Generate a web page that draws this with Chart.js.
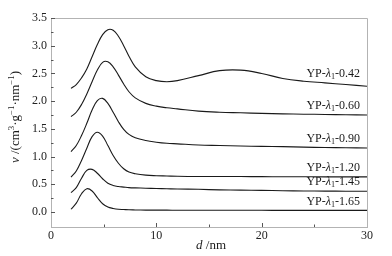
<!DOCTYPE html>
<html lang="en">
<head>
<meta charset="UTF-8">
<title>Pore size distribution</title>
<script src="https://cdn.jsdelivr.net/npm/chart.js"></script>
<style>
    html, body { margin: 0; padding: 0; background: #fff; }
    #wrap { width: 392px; height: 256px; }
</style>
</head>
<body>
<div id="wrap"><canvas id="psd" width="392" height="256"></canvas></div>
<script>
    // pore diameter d (nm), shared by every curve
    const dValues = [1.9, 2.4, 2.9, 3.4, 3.9, 4.4, 4.9, 5.4, 5.9, 6.4, 6.9, 7.4, 8, 9, 10, 11, 12, 14, 16, 18, 20, 22, 24, 26, 28, 30];

    const seriesNames = ['0.42', '0.60', '0.90', '1.20', '1.45', '1.65'];

    const v042 = [2.23, 2.30, 2.42, 2.58, 2.80, 3.02, 3.20, 3.29, 3.28, 3.17, 3.00, 2.81, 2.62, 2.44, 2.37, 2.35, 2.37, 2.46, 2.55, 2.56, 2.50, 2.41, 2.36, 2.33, 2.30, 2.27];
    const v060 = [1.72, 1.80, 1.94, 2.13, 2.35, 2.56, 2.70, 2.71, 2.62, 2.47, 2.31, 2.17, 2.06, 1.96, 1.91, 1.88, 1.86, 1.82, 1.80, 1.79, 1.78, 1.77, 1.765, 1.76, 1.755, 1.75];
    const v090 = [1.09, 1.20, 1.38, 1.60, 1.84, 2.01, 2.05, 1.96, 1.80, 1.63, 1.49, 1.40, 1.34, 1.29, 1.26, 1.24, 1.23, 1.21, 1.20, 1.19, 1.185, 1.18, 1.17, 1.165, 1.16, 1.155];
    const v120 = [0.63, 0.74, 0.93, 1.15, 1.36, 1.44, 1.37, 1.20, 1.02, 0.88, 0.78, 0.72, 0.69, 0.665, 0.655, 0.65, 0.645, 0.64, 0.64, 0.64, 0.638, 0.637, 0.636, 0.635, 0.635, 0.635];
    const v145 = [0.35, 0.44, 0.61, 0.75, 0.77, 0.70, 0.60, 0.52, 0.48, 0.46, 0.45, 0.44, 0.435, 0.43, 0.425, 0.42, 0.415, 0.41, 0.40, 0.395, 0.39, 0.385, 0.38, 0.378, 0.376, 0.375];
    const v165 = [0.05, 0.16, 0.33, 0.42, 0.38, 0.26, 0.15, 0.09, 0.065, 0.05, 0.045, 0.04, 0.038, 0.035, 0.035, 0.034, 0.033, 0.033, 0.032, 0.032, 0.031, 0.03, 0.03, 0.03, 0.03, 0.03];

    const xTicks = [0, 10, 20, 30];
    const yTicks = [0, 0.5, 1.0, 1.5, 2.0, 2.5, 3.0, 3.5];

    const allSeries = [v042, v060, v090, v120, v145, v165];
    const serif = "'Liberation Serif', 'Times New Roman', serif";
    const frameColor = '#b3b3b3';

    const datasets = allSeries.map((vals, i) => ({
        label: 'YP-λ1-' + seriesNames[i],
        data: vals.map((v, k) => ({ x: dValues[k], y: v })),
        borderColor: '#1a1a1a',
        borderWidth: 1.1,
        pointRadius: 0,
        showLine: true,
        tension: 0.4,
        fill: false
    }));

    // draws mixed runs of text: [str, italic, script] where script is 'sup'/'sub'/null
    function drawRuns(ctx, runs, x, y, size) {
        runs.forEach(r => {
            const small = r[2] ? size * 0.68 : size;
            ctx.font = (r[1] ? 'italic ' : '') + small + 'px ' + serif;
            let dy = 0;
            if (r[2] === 'sup') dy = -size * 0.33;
            if (r[2] === 'sub') dy = size * 0.25;
            ctx.fillText(r[0], x, y + dy);
            x += ctx.measureText(r[0]).width;
        });
    }
    function runsWidth(ctx, runs, size) {
        let w = 0;
        runs.forEach(r => {
            const small = r[2] ? size * 0.68 : size;
            ctx.font = (r[1] ? 'italic ' : '') + small + 'px ' + serif;
            w += ctx.measureText(r[0]).width;
        });
        return w;
    }

    const decorations = {
        id: 'decorations',
        afterDraw(chart) {
            const ctx = chart.ctx;
            const area = chart.chartArea;
            const xs = chart.scales.x, ys = chart.scales.y;
            ctx.save();

            // top and right frame lines
            ctx.strokeStyle = frameColor;
            ctx.lineWidth = 1;
            ctx.beginPath();
            ctx.moveTo(area.left, area.top + 0.5);
            ctx.lineTo(area.right + 0.5, area.top + 0.5);
            ctx.lineTo(area.right + 0.5, area.bottom);
            ctx.stroke();

            // inward tick marks
            ctx.strokeStyle = '#555';
            ctx.beginPath();
            for (let v = 0; v <= 3.5001; v += 0.25) {
                const py = Math.round(ys.getPixelForValue(v)) + 0.5;
                const len = Math.abs(v * 2 - Math.round(v * 2)) < 1e-6 ? 4 : 2.5;
                ctx.moveTo(area.left, py);
                ctx.lineTo(area.left + len, py);
            }
            for (let d = 5; d < 30; d += 5) {
                const px = Math.round(xs.getPixelForValue(d)) + 0.5;
                const len = d % 10 === 0 ? 4 : 2.5;
                ctx.moveTo(px, area.bottom);
                ctx.lineTo(px, area.bottom - len);
            }
            ctx.stroke();

            // curve labels
            ctx.fillStyle = '#1a1a1a';
            ctx.textBaseline = 'middle';
            ctx.textAlign = 'left';
            const k26 = dValues.indexOf(26);
            allSeries.forEach((vals, i) => {
                const runs = [['YP-', false, null], ['λ', true, null], ['1', false, 'sub'], ['-' + seriesNames[i], false, null]];
                const w = runsWidth(ctx, runs, 12);
                const right = area.right - 7;
                const y = ys.getPixelForValue(vals[k26]) - 9;
                drawRuns(ctx, runs, right - w, y, 12);
            });

            // x axis title
            const xRuns = [['d', true, null], [' /nm', false, null]];
            const xw = runsWidth(ctx, xRuns, 13);
            drawRuns(ctx, xRuns, (area.left + area.right) / 2 - xw / 2 + 2, 246, 13);

            // y axis title
            const yRuns = [['v', true, null], [' /(cm', false, null], ['3', false, 'sup'], ['·g', false, null],
                ['−1', false, 'sup'], ['·nm', false, null], ['−1', false, 'sup'], [')', false, null]];
            const yw = runsWidth(ctx, yRuns, 13);
            ctx.translate(16, 117);
            ctx.rotate(-Math.PI / 2);
            drawRuns(ctx, yRuns, -yw / 2, 0, 13);
            ctx.restore();
        }
    };

    new Chart(document.getElementById('psd'), {
        type: 'scatter',
        data: { datasets },
        options: {
            responsive: false,
            animation: false,
            layout: { padding: { left: 0, right: 25, top: 18, bottom: 0 } },
            plugins: {
                legend: { display: false },
                tooltip: { enabled: false }
            },
            scales: {
                x: {
                    type: 'linear',
                    min: 0,
                    max: 30,
                    afterBuildTicks: s => { s.ticks = xTicks.map(v => ({ value: v })); },
                    afterFit: s => { s.height = 29; },
                    grid: { display: false, drawTicks: false },
                    border: { display: true, color: frameColor, width: 1 },
                    ticks: {
                        color: '#222',
                        padding: 2,
                        maxRotation: 0,
                        font: { family: serif, size: 12 }
                    }
                },
                y: {
                    type: 'linear',
                    min: -0.27,
                    max: 3.5,
                    afterBuildTicks: s => { s.ticks = yTicks.map(v => ({ value: v })); },
                    afterFit: s => { s.width = 51; },
                    grid: { display: false, drawTicks: false },
                    border: { display: true, color: frameColor, width: 1 },
                    ticks: {
                        color: '#222',
                        padding: 4,
                        font: { family: serif, size: 12 },
                        callback: v => v.toFixed(1)
                    }
                }
            }
        },
        plugins: [decorations]
    });
</script>
</body>
</html>
